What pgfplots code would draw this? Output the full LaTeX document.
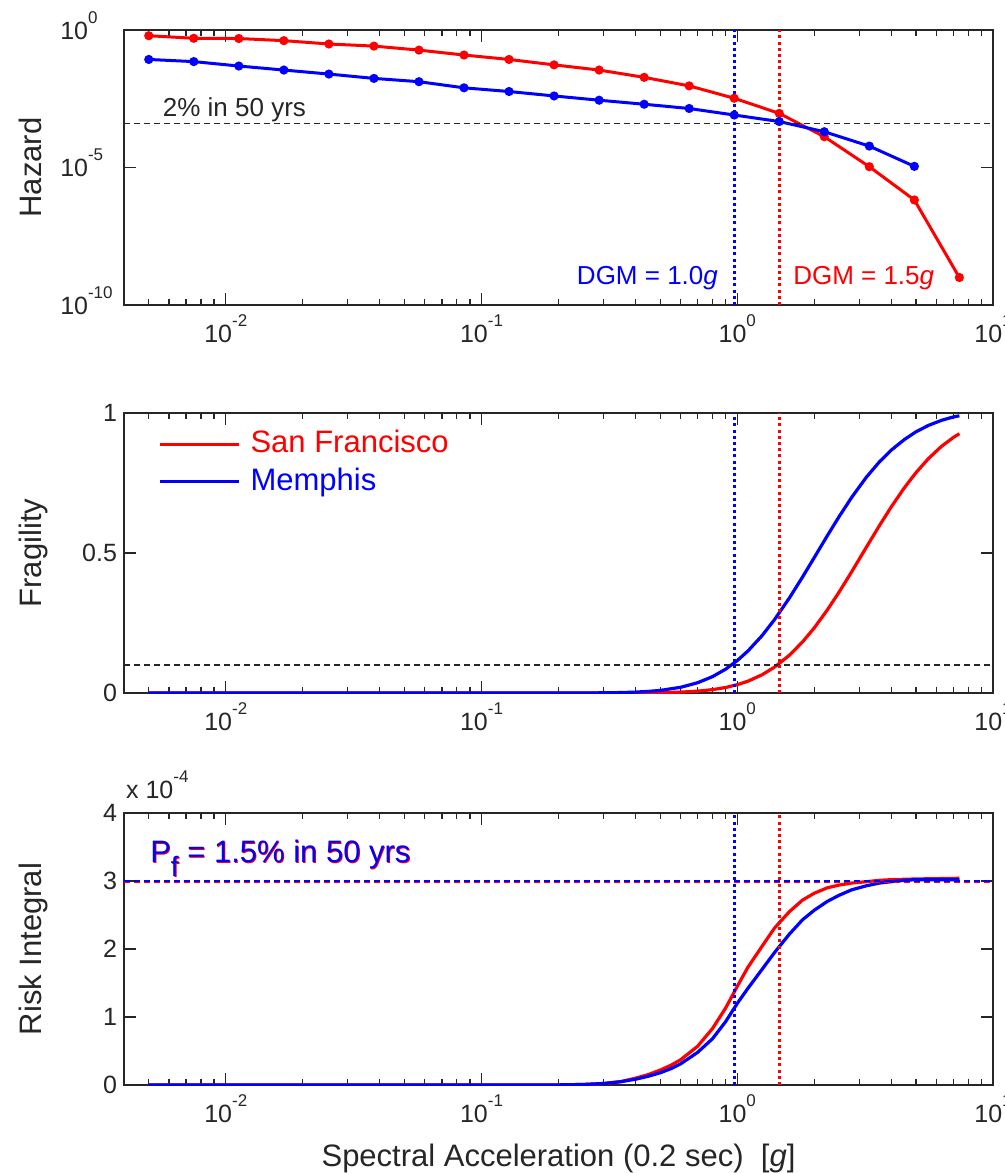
\documentclass[border=0pt]{standalone}
\usepackage{fontspec}
\setmainfont{Liberation Sans}
\usepackage{pgfplots}
\pgfplotsset{compat=1.18}
\definecolor{axgray}{gray}{0.15}
\newcommand{\tpow}[1]{10\raisebox{8pt}{\fontsize{8.5}{8.5}\selectfont #1}}

\pgfplotsset{
  hzpanel/.style={
    scale only axis, width=434.5pt,
    xmin=0.004, xmax=10,
    xtick={0.01,0.1,1,10},
    xticklabels={\tpow{-2},\tpow{-1},\tpow{0},\tpow{1}},
    minor xtick={0.005,0.006,0.007,0.008,0.009,0.02,0.03,0.04,0.05,0.06,0.07,0.08,0.09,
                 0.2,0.3,0.4,0.5,0.6,0.7,0.8,0.9,2,3,4,5,6,7,8,9},
    tick align=inside, xtick pos=both, ytick pos=both,
    major tick length=5.8pt, minor tick length=2.9pt,
    axis line style={axgray, line width=0.9pt},
    tick style={axgray, line width=0.7pt},
    tick label style={font=\fontsize{12.5}{15}\selectfont, text=axgray},
    xticklabel style={yshift=-1.5pt},
    label style={font=\fontsize{15.5}{18}\selectfont, text=axgray},
    ylabel style={at={(axis description cs:-0.0948,0.5)}, anchor=base},
  },
}
\tikzset{
  hzcurve/.style={line width=1.6pt},
  hzdgm/.style={line width=1.5pt, dash pattern=on 1.5pt off 1.6pt},
  hzref/.style={axgray, line width=0.75pt, dash pattern=on 3pt off 2pt},
}

\begin{document}
\begin{tikzpicture}

% ---------------- hazard ----------------
\begin{axis}[xmode=log, ymode=log, hzpanel,
  /pgf/number format/assume math mode=true,
  at={(62pt,-152.5pt)}, anchor=south west, height=137.5pt,
  ymin=1e-10, ymax=1,
  ytick={1e-10,1e-5,1}, minor ytick={},
  yticklabels={\tpow{-10},\tpow{-5},\tpow{0}},
  yticklabel style={anchor=base west, xshift=-35.4pt, yshift=-4.6pt},
  ylabel={Hazard}]
\addplot[red, line width=1.5pt, mark=*, mark size=1.5pt] coordinates {
  (0.005,0.62) (0.0075,0.50) (0.01125,0.49) (0.016875,0.41) (0.02531,0.31)
  (0.03797,0.26) (0.05695,0.186) (0.08543,0.123) (0.12814,0.085) (0.19222,0.054)
  (0.28833,0.035) (0.43249,0.019) (0.64873,0.0093) (0.9731,0.0033) (1.45965,9.3e-4)
  (2.18947,1.32e-4) (3.28421,1.07e-5) (4.92631,6.6e-7) (7.38947,1.0e-9)};
\addplot[blue, line width=1.5pt, mark=*, mark size=1.5pt] coordinates {
  (0.005,0.085) (0.0075,0.071) (0.01125,0.049) (0.016875,0.035) (0.02531,0.025)
  (0.03797,0.0174) (0.05695,0.0132) (0.08543,0.0079) (0.12814,0.0058) (0.19222,0.0040)
  (0.28833,0.0028) (0.43249,0.0020) (0.64873,0.0014) (0.9731,8.1e-4) (1.45965,4.7e-4)
  (2.18947,2.0e-4) (3.28421,6.0e-5) (4.92631,1.1e-5)};
\addplot[hzref] coordinates {(0.004,4.04e-4) (10,4.04e-4)};
\addplot[blue, hzdgm] coordinates {(0.9731,1e-10) (0.9731,1)};
\addplot[red, hzdgm] coordinates {(1.45965,1e-10) (1.45965,1)};
\node[anchor=base west, inner sep=0pt, text=axgray, font=\fontsize{13}{15}\selectfont]
  at (axis cs:0.00566,7e-4) {2\% in 50 yrs};
\node[anchor=base east, inner sep=0pt, text=blue, font=\fontsize{13}{15}\selectfont]
  at (axis cs:0.843,5.4e-10) {DGM = 1.0\textit{g}};
\node[anchor=base west, inner sep=0pt, text=red, font=\fontsize{13}{15}\selectfont]
  at (axis cs:1.65,5.4e-10) {DGM = 1.5\textit{g}};
\end{axis}

% ---------------- fragility ----------------
\begin{axis}[xmode=log, hzpanel,
  /pgf/number format/assume math mode=true,
  at={(62pt,-346.5pt)}, anchor=south west, height=140pt,
  ymin=0, ymax=1, ytick={0,0.5,1},
  ylabel={Fragility},
  legend style={draw=none, fill=none, at={(axis description cs:0.0391,0.9443)},
    anchor=north west, inner sep=0pt, row sep=3.7pt, column sep=0pt,
    font=\fontsize{15.5}{18}\selectfont,
    nodes={inner sep=0pt, text height=11.7pt, text depth=3.4pt}},
  legend cell align=left,
  legend image code/.code={\draw[#1, line width=1.6pt] (0pt,0pt) -- (39.5pt,0pt);
    \path (44.5pt,0pt);},
  legend entries={\textcolor{red}{San Francisco}, \textcolor{blue}{Memphis}}]
\addplot[red, hzcurve] table {
x y
0.005 0
0.1 0
0.3 0.00005
0.35 0.00014
0.4 0.0003
0.45 0.00065
0.5 0.0012
0.6 0.0031
0.7 0.0066
0.8 0.0120
0.9 0.0196
1.0 0.0297
1.1 0.0421
1.25 0.0650
1.4 0.0926
1.6 0.1352
1.8 0.1825
2.0 0.2325
2.25 0.2966
2.5 0.3600
2.8 0.4326
3.2 0.5211
3.6 0.5984
4.0 0.6645
4.5 0.7328
5.0 0.7872
5.6 0.8379
6.3 0.8814
7.0 0.9127
7.39 0.9262
};
\addplot[blue, hzcurve] table {
x y
0.005 0
0.1 0
0.2 0.00005
0.25 0.0002
0.3 0.0007
0.35 0.0016
0.4 0.0032
0.45 0.0058
0.5 0.0093
0.6 0.0203
0.7 0.0367
0.8 0.0584
0.9 0.0850
1.0 0.1158
1.1 0.1498
1.25 0.2048
1.4 0.2626
1.6 0.3398
1.8 0.4142
2.0 0.4836
2.25 0.5617
2.5 0.6296
2.8 0.6984
3.2 0.7711
3.6 0.8260
4.0 0.8674
4.5 0.9050
5.0 0.9330
5.6 0.9560
6.3 0.9740
7.0 0.9860
7.39 0.9900
};
\addplot[hzref, forget plot] coordinates {(0.004,0.1) (10,0.1)};
\addplot[blue, hzdgm, forget plot] coordinates {(0.9731,0) (0.9731,1)};
\addplot[red, hzdgm, forget plot] coordinates {(1.45965,0) (1.45965,1)};
\end{axis}

% ---------------- risk integral ----------------
\begin{axis}[xmode=log, hzpanel, clip mode=individual,
  /pgf/number format/assume math mode=true,
  at={(62pt,-542.5pt)}, anchor=south west, height=136pt,
  ymin=0, ymax=4, ytick={0,1,2,3,4},
  ylabel={Risk Integral},
  xlabel={Spectral Acceleration (0.2 sec)\ \ [\textit{g}]},
  xlabel style={at={(axis description cs:0.5,0)}, anchor=base, yshift=-40.8pt}]
\addplot[red, hzcurve] table {
x y
0.005 0
0.1 0
0.2 0.002
0.25 0.008
0.3 0.022
0.35 0.05
0.4 0.10
0.45 0.155
0.5 0.22
0.55 0.29
0.6 0.37
0.7 0.57
0.8 0.83
0.9 1.13
1.0 1.45
1.1 1.73
1.25 2.04
1.4 2.31
1.6 2.55
1.8 2.72
2.0 2.82
2.25 2.90
2.5 2.94
2.8 2.97
3.2 2.99
3.6 3.01
4.0 3.02
5.0 3.03
7.39 3.04
};
\addplot[blue, hzcurve] table {
x y
0.005 0
0.1 0
0.2 0.002
0.25 0.008
0.3 0.022
0.35 0.048
0.4 0.085
0.45 0.13
0.5 0.18
0.55 0.24
0.6 0.31
0.7 0.48
0.8 0.68
0.9 0.93
1.0 1.20
1.1 1.42
1.25 1.70
1.4 1.95
1.6 2.22
1.8 2.43
2.0 2.57
2.25 2.70
2.5 2.79
2.8 2.87
3.2 2.93
3.6 2.97
4.0 2.99
4.5 3.01
5.0 3.02
7.39 3.02
};
\addplot[red, line width=1pt, dash pattern=on 3pt off 2pt, yshift=-0.5pt] coordinates {(0.004,3) (10,3)};
\addplot[blue, line width=1pt, dash pattern=on 3pt off 2pt] coordinates {(0.004,3) (10,3)};
\addplot[blue, hzdgm] coordinates {(0.9731,0) (0.9731,4)};
\addplot[red, hzdgm] coordinates {(1.45965,0) (1.45965,4)};
\node[anchor=base west, inner sep=0pt, text=red, font=\fontsize{15.5}{18}\selectfont,
  xshift=0.4pt, yshift=-0.5pt] at (axis cs:0.00505,3.265)
  {P\raisebox{-7pt}{\fontsize{14}{14}\selectfont f} = 1.5\% in 50 yrs};
\node[anchor=base west, inner sep=0pt, text=blue, font=\fontsize{15.5}{18}\selectfont]
  at (axis cs:0.00505,3.265)
  {P\raisebox{-7pt}{\fontsize{14}{14}\selectfont f} = 1.5\% in 50 yrs};
\node[anchor=base west, inner sep=0pt, yshift=7.2pt, text=axgray,
  font=\fontsize{12.5}{15}\selectfont] at (rel axis cs:0.002,1) {x \tpow{-4}};
\end{axis}

\pgfresetboundingbox
\path[use as bounding box] (0,0) rectangle (502.5pt,-586.5pt);
\end{tikzpicture}
\end{document}
